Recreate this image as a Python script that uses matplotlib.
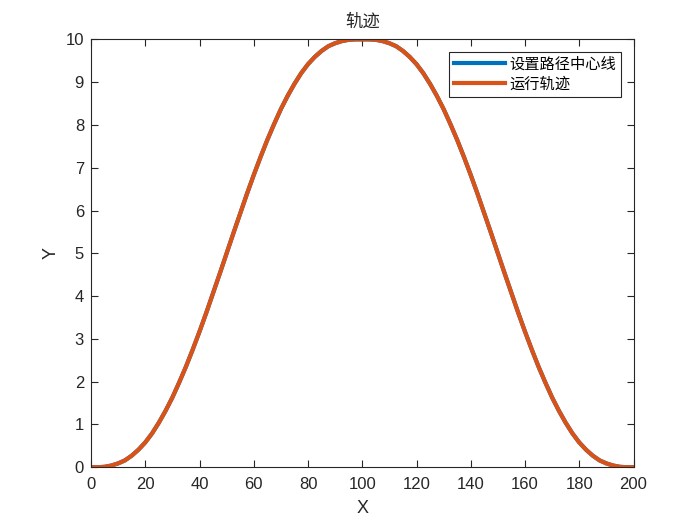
import matplotlib
matplotlib.use("Agg")
import matplotlib.pyplot as plt

plt.rcParams['font.family'] = ['Liberation Sans', 'Noto Sans CJK SC', 'DejaVu Sans']

# path centre line / trajectory, every 2.5 units of X
x_vals = [i * 2.5 for i in range(81)]
y_center = [0.0, 0.0, 0.01, 0.04, 0.09, 0.16, 0.27, 0.41, 0.58, 0.79,
            1.04, 1.32, 1.63, 1.98, 2.35, 2.75, 3.17, 3.61, 4.07, 4.53,
            5.0, 5.47, 5.93, 6.39, 6.83, 7.25, 7.65, 8.02, 8.37, 8.68,
            8.96, 9.21, 9.42, 9.59, 9.73, 9.84, 9.91, 9.96, 9.99, 10.0,
            10.0,
            10.0, 9.99, 9.96, 9.91, 9.84, 9.73, 9.59, 9.42, 9.21, 8.96,
            8.68, 8.37, 8.02, 7.65, 7.25, 6.83, 6.39, 5.93, 5.47, 5.0,
            4.53, 4.07, 3.61, 3.17, 2.75, 2.35, 1.98, 1.63, 1.32, 1.04,
            0.79, 0.58, 0.41, 0.27, 0.16, 0.09, 0.04, 0.01, 0.0, 0.0]
y_run = list(y_center)

fig = plt.figure(figsize=(7, 5.25), dpi=100)
ax = fig.add_axes([0.13, 0.11, 0.775, 0.815])

ax.plot(x_vals, y_center, color='#0072BD', linewidth=3, label='设置路径中心线',
        solid_joinstyle='round')
ax.plot(x_vals, y_run, color='#D95319', linewidth=3, label='运行轨迹',
        solid_joinstyle='round')

ax.set_xlim(0, 200)
ax.set_ylim(0, 10)
ax.set_xticks(range(0, 201, 20))
ax.set_yticks(range(0, 11, 1))
ax.tick_params(direction='in', top=True, right=True, labelsize=12, length=5, color='#262626',
               labelcolor='#262626')
ax.tick_params(axis='x', pad=7)
ax.tick_params(axis='y', pad=5)
for s in ax.spines.values():
    s.set_color('#262626')
    s.set_linewidth(0.8)

ax.set_xlabel('X', fontsize=13, color='#262626', labelpad=6)
ax.set_ylabel('Y', fontsize=13, color='#262626', labelpad=4)
ax.set_title('轨迹', fontsize=12.5, color='#262626', pad=9)

leg = ax.legend(loc='upper right', fontsize=11, fancybox=False, framealpha=1,
                edgecolor='#262626', handlelength=3.3, borderaxespad=0.8,
                borderpad=0.35, labelspacing=0.4, handletextpad=0.3)
leg.get_frame().set_linewidth(0.8)

fig.savefig('out.png', dpi=100)
